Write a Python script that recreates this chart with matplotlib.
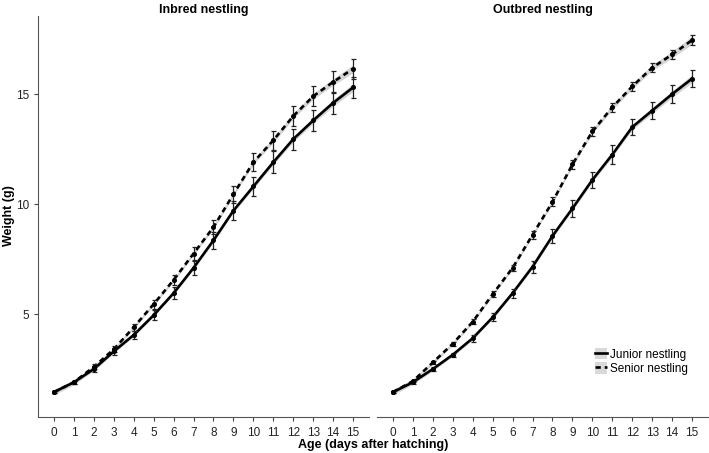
import matplotlib.pyplot as plt
import numpy as np
from matplotlib.lines import Line2D
from matplotlib.patches import Patch

plt.rcParams['font.family'] = ['Liberation Sans', 'DejaVu Sans']

days = list(range(16))

# inbred nestlings
in_junior = [1.45, 1.9, 2.5, 3.3, 4.05, 4.95, 5.95, 7.1, 8.35, 9.7, 10.8, 11.9, 12.95, 13.8, 14.6, 15.3]
in_junior_se = [0.05, 0.07, 0.12, 0.15, 0.18, 0.22, 0.28, 0.33, 0.38, 0.42, 0.45, 0.5, 0.48, 0.48, 0.5, 0.48]
in_senior = [1.45, 1.9, 2.6, 3.4, 4.4, 5.45, 6.55, 7.75, 8.95, 10.45, 11.9, 12.9, 14.0, 14.9, 15.55, 16.15]
in_senior_se = [0.05, 0.07, 0.12, 0.14, 0.17, 0.2, 0.22, 0.28, 0.32, 0.38, 0.4, 0.42, 0.45, 0.45, 0.48, 0.45]

# outbred nestlings
out_junior = [1.45, 1.9, 2.5, 3.15, 3.9, 4.85, 5.95, 7.15, 8.55, 9.8, 11.1, 12.25, 13.5, 14.25, 15.0, 15.7]
out_junior_se = [0.05, 0.07, 0.08, 0.1, 0.15, 0.18, 0.2, 0.28, 0.32, 0.38, 0.38, 0.42, 0.38, 0.4, 0.4, 0.38]
out_senior = [1.45, 1.95, 2.8, 3.65, 4.65, 5.9, 7.1, 8.6, 10.1, 11.8, 13.3, 14.4, 15.35, 16.2, 16.8, 17.45]
out_senior_se = [0.05, 0.06, 0.08, 0.1, 0.12, 0.14, 0.15, 0.17, 0.2, 0.22, 0.22, 0.2, 0.2, 0.2, 0.2, 0.22]

# confidence ribbon half width of fitted curves
ribbon = [0.12, 0.1, 0.08, 0.07, 0.07, 0.07, 0.07, 0.08, 0.08, 0.09, 0.1, 0.11, 0.12, 0.13, 0.15, 0.18]

panels = [("Inbred nestling", in_junior, in_junior_se, in_senior, in_senior_se),
          ("Outbred nestling", out_junior, out_junior_se, out_senior, out_senior_se)]

DASH = (0, (2.0, 1.5))

fig = plt.figure(figsize=(7.09, 4.53), dpi=100)
W, H = 709, 453
bottom = (H - 417) / H
height = (417 - 16) / H
ax1 = fig.add_axes([38 / W, bottom, 331 / W, height])
ax2 = fig.add_axes([377 / W, bottom, 331 / W, height])

x = np.array(days)
for ax, (title, jun, jun_se, sen, sen_se) in zip([ax1, ax2], panels):
    for vals, se, ls in [(jun, jun_se, '-'), (sen, sen_se, DASH)]:
        vals = np.array(vals)
        ax.fill_between(x, vals - np.array(ribbon), vals + np.array(ribbon),
                        color='#d4d4d4', lw=0, zorder=1)
        ax.plot(x, vals, color='black', lw=1.9, ls=ls, zorder=3)
        ax.errorbar(x, vals, yerr=se, fmt='o', color='black', ms=2.6,
                    ecolor='#222222', elinewidth=0.9, capsize=1.8, capthick=0.9, zorder=4)
    ax.set_title(title, fontsize=9, fontweight='bold', pad=1.5)
    ax.set_xlim(-0.8, 15.8)
    ax.set_ylim(0.32, 18.55)
    ax.set_xticks(days)
    ax.tick_params(axis='x', labelsize=8.5, length=3, color='#444444', labelcolor='#222222', pad=4)
    for s in ['top', 'right']:
        ax.spines[s].set_visible(False)
    ax.spines['bottom'].set_color('#555555')
    ax.spines['left'].set_color('#555555')

ax1.set_yticks([5, 10, 15])
ax1.tick_params(axis='y', labelsize=8.5, length=3, color='#444444', labelcolor='#222222')
ax2.spines['left'].set_visible(False)
ax2.set_yticks([])

# legend
handles = [(Patch(facecolor='#d9d9d9', edgecolor='none'), Line2D([], [], color='black', lw=1.9)),
           (Patch(facecolor='#d9d9d9', edgecolor='none'), Line2D([], [], color='black', lw=1.9, ls=DASH))]
ax2.legend(handles, ["Junior nestling", "Senior nestling"], loc='lower left',
           bbox_to_anchor=(0.64, 0.09), frameon=False, fontsize=8.5,
           handlelength=1.0, handleheight=1.1, handletextpad=0.3, labelspacing=0.15,
           borderpad=0)

fig.text(9 / W, 1 - 216 / H, "Weight (g)", rotation=90, ha='center', va='center',
         fontsize=9, fontweight='bold')
fig.text(373 / W, 1 - 445 / H, "Age (days after hatching)", ha='center', va='center',
         fontsize=9, fontweight='bold')

fig.savefig("out.png", dpi=100)
